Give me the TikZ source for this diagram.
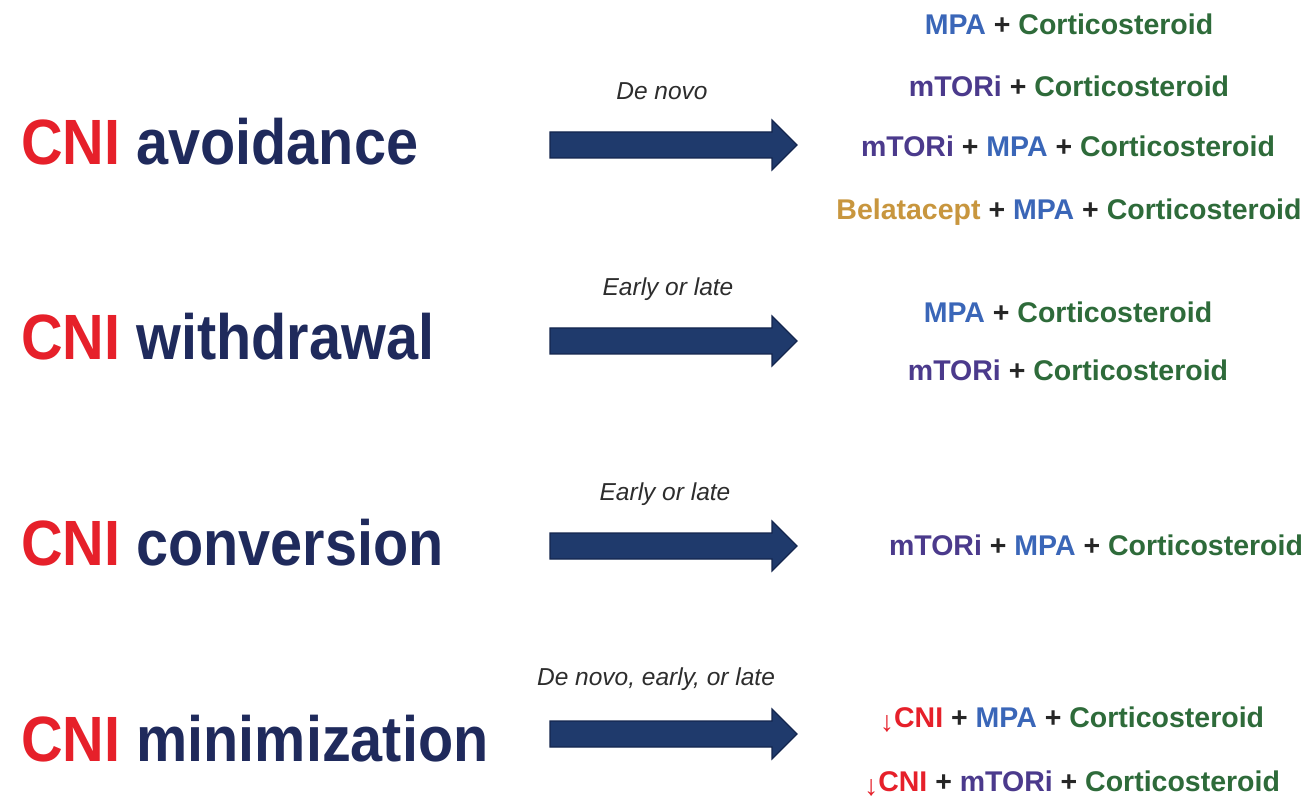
\documentclass[tikz,border=0pt]{standalone}
\usepackage{fontspec}
\setmainfont{Liberation Sans}
\newfontfamily\headfont[FakeStretch=0.9]{Liberation Sans}
\definecolor{cnired}{RGB}{230,32,42}
\definecolor{headnavy}{RGB}{31,42,92}
\definecolor{arrowfill}{RGB}{31,58,108}
\definecolor{arrowedge}{RGB}{20,38,78}
\definecolor{mpablue}{RGB}{58,102,184}
\definecolor{mtorpurple}{RGB}{75,58,140}
\definecolor{csgreen}{RGB}{46,107,58}
\definecolor{belatan}{RGB}{200,150,62}
\definecolor{labelgray}{RGB}{45,45,45}
\newcommand{\CNIx}{\textcolor{cnired}{CNI}}
\newcommand{\MPAx}{\textcolor{mpablue}{MPA}}
\newcommand{\mTORx}{\textcolor{mtorpurple}{mTORi}}
\newcommand{\CSx}{\textcolor{csgreen}{Corticosteroid}}
\newcommand{\BELx}{\textcolor{belatan}{Belatacept}}
\newcommand{\plusx}{\ \textcolor{black!85}{+}\ }
\newcommand{\downx}{\textcolor{cnired}{\mdseries\raisebox{-0.15em}{↓}}}
\begin{document}
\begin{tikzpicture}[x=1pt,y=-1pt,
  heading/.style={anchor=base west,inner sep=0pt,text=headnavy,
    font=\headfont\bfseries\fontsize{64}{64}\selectfont},
  timing/.style={anchor=base,inner sep=0pt,text=labelgray,
    font=\itshape\fontsize{24.5}{25}\selectfont},
  regimen/.style={anchor=base,inner sep=0pt,
    font=\bfseries\fontsize{28.5}{29}\selectfont},
  fatarrow/.pic={
    \filldraw[fill=arrowfill,draw=arrowedge,line width=1.2pt,line join=miter]
      (0,-13) -- (222,-13) -- (222,-25) -- (247,0) -- (222,25) -- (222,13)
      -- (0,13) -- cycle;}]
\useasboundingbox[fill=white] (0,0) rectangle (1309,799);

% strategy headings
\node[heading] (avoid) at (21,165) {\CNIx{} avoidance};
\node[heading] (withdraw) at (21,360) {\CNIx{} withdrawal};
\node[heading] (convert) at (21,565) {\CNIx{} conversion};
\node[heading] (minimize) at (21,761) {\CNIx{} minimization};

% block arrows with timing labels
\pic at (550,145) {fatarrow};
\pic at (550,341) {fatarrow};
\pic at (550,546) {fatarrow};
\pic at (550,734) {fatarrow};
\node[timing] (t1) at (662,100) {De novo};
\node[timing] (t2) at (668,296) {Early or late};
\node[timing] (t3) at (665,500) {Early or late};
\node[timing] (t4) at (656,685) {De novo, early, or late};

% resulting regimens
\node[regimen] (a1) at (1069,35) {\MPAx\plusx\CSx};
\node[regimen] (a2) at (1069,97) {\mTORx\plusx\CSx};
\node[regimen] (a3) at (1068,157) {\mTORx\plusx\MPAx\plusx\CSx};
\node[regimen] (a4) at (1069,220) {\BELx\plusx\MPAx\plusx\CSx};

\node[regimen] (w1) at (1068,323) {\MPAx\plusx\CSx};
\node[regimen] (w2) at (1068,381) {\mTORx\plusx\CSx};

\node[regimen] (c1) at (1096,555) {\mTORx\plusx\MPAx\plusx\CSx};

\node[regimen] (m1) at (1072,727) {\downx\CNIx\plusx\MPAx\plusx\CSx};
\node[regimen] (m2) at (1072,791) {\downx\CNIx\plusx\mTORx\plusx\CSx};
\end{tikzpicture}
\end{document}
